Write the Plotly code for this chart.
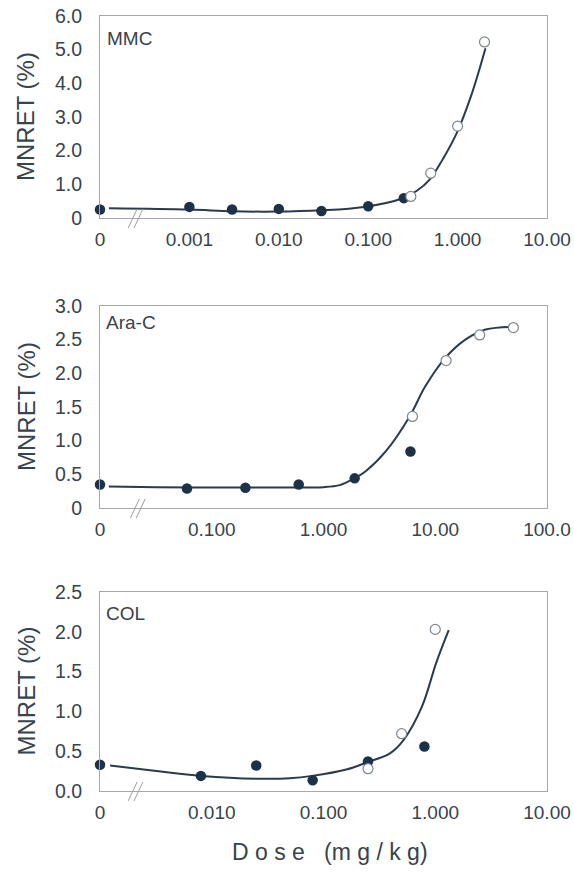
import plotly.graph_objects as go
from plotly.subplots import make_subplots

# ---------------- data ----------------
# MMC
mmc_filled_dose = [0, 0.001, 0.003, 0.01, 0.03, 0.1, 0.25]
mmc_filled_val = [0.25, 0.33, 0.25, 0.27, 0.21, 0.35, 0.59]
mmc_open_dose = [0.3, 0.5, 1.0, 2.0]
mmc_open_val = [0.64, 1.33, 2.73, 5.23]
mmc_curve_dose = [0.000126, 0.001, 0.003, 0.0093, 0.03, 0.09, 0.24, 0.35, 0.49, 0.68, 0.98, 1.45, 2.05]
mmc_curve_val = [0.29, 0.25, 0.20, 0.19, 0.23, 0.33, 0.58, 0.81, 1.15, 1.74, 2.53, 3.71, 5.04]

# Ara-C
arac_filled_dose = [0, 0.06, 0.2, 0.6, 1.9, 6.0]
arac_filled_val = [0.35, 0.29, 0.30, 0.35, 0.44, 0.84]
arac_open_dose = [6.25, 12.5, 25, 50]
arac_open_val = [1.36, 2.19, 2.57, 2.68]
arac_curve_dose = [0.012, 0.032, 0.1, 0.32, 1.0, 1.4, 1.8, 2.4, 3.6, 5.9, 8.1, 12.3, 18.6, 28.2, 50]
arac_curve_val = [0.32, 0.31, 0.305, 0.305, 0.31, 0.34, 0.42, 0.55, 0.84, 1.36, 1.80, 2.23, 2.50, 2.65, 2.69]

# COL
col_filled_dose = [0, 0.008, 0.025, 0.08, 0.25, 0.8]
col_filled_val = [0.33, 0.19, 0.32, 0.135, 0.37, 0.56]
col_open_dose = [0.25, 0.5, 1.0]
col_open_val = [0.28, 0.72, 2.03]
col_curve_dose = [0.00123, 0.0032, 0.0081, 0.025, 0.05, 0.079, 0.16, 0.245, 0.39, 0.52, 0.76, 1.02, 1.32]
col_curve_val = [0.32, 0.25, 0.19, 0.155, 0.16, 0.19, 0.27, 0.36, 0.47, 0.64, 1.06, 1.61, 2.02]

panel_names = ["MMC", "Ara-C", "COL"]

mmc_xtick_vals = [1e-4, 1e-3, 1e-2, 1e-1, 1, 10]
mmc_xtick_text = ["0", "0.001", "0.010", "0.100", "1.000", "10.00"]
arac_xtick_vals = [1e-2, 1e-1, 1, 10, 100]
arac_xtick_text = ["0", "0.100", "1.000", "10.00", "100.0"]
col_xtick_vals = [1e-3, 1e-2, 1e-1, 1, 10]
col_xtick_text = ["0", "0.010", "0.100", "1.000", "10.00"]

mmc_ytick_vals = [0, 1, 2, 3, 4, 5, 6]
mmc_ytick_text = ["0", "1.0", "2.0", "3.0", "4.0", "5.0", "6.0"]
arac_ytick_vals = [0, 0.5, 1.0, 1.5, 2.0, 2.5, 3.0]
arac_ytick_text = ["0", "0.5", "1.0", "1.5", "2.0", "2.5", "3.0"]
col_ytick_vals = [0, 0.5, 1.0, 1.5, 2.0, 2.5]
col_ytick_text = ["0.0", "0.5", "1.0", "1.5", "2.0", "2.5"]

# ---------------- figure ----------------
W, H = 574, 872
FONT = "Liberation Sans, Arial, sans-serif"
TXT = "#37434d"
LINE_C = "#2c3b49"
DOT_C = "#1d3246"
OPEN_C = "#7d8790"
FRAME_C = "#a8a8a8"

panels = [
    dict(fd=mmc_filled_dose, fv=mmc_filled_val, od=mmc_open_dose, ov=mmc_open_val,
         cd=mmc_curve_dose, cv=mmc_curve_val, xr=[-4, 1], yr=[0, 6],
         xtv=mmc_xtick_vals, xtt=mmc_xtick_text, ytv=mmc_ytick_vals, ytt=mmc_ytick_text,
         top=16, bot=218, brk=0.075, lab_y=0.89, lab_x=0.012),
    dict(fd=arac_filled_dose, fv=arac_filled_val, od=arac_open_dose, ov=arac_open_val,
         cd=arac_curve_dose, cv=arac_curve_val, xr=[-2, 2], yr=[0, 3],
         xtv=arac_xtick_vals, xtt=arac_xtick_text, ytv=arac_ytick_vals, ytt=arac_ytick_text,
         top=306, bot=508, brk=0.08, lab_y=0.92, lab_x=0.008),
    dict(fd=col_filled_dose, fv=col_filled_val, od=col_open_dose, ov=col_open_val,
         cd=col_curve_dose, cv=col_curve_val, xr=[-3, 1], yr=[0, 2.5],
         xtv=col_xtick_vals, xtt=col_xtick_text, ytv=col_ytick_vals, ytt=col_ytick_text,
         top=592, bot=791, brk=0.075, lab_y=0.89, lab_x=0.008),
]

fig = make_subplots(rows=3, cols=1)

X0, X1 = 100, 547
for i, p in enumerate(panels):
    r = i + 1
    zero_at = 10 ** p["xr"][0]
    fd = [d if d > 0 else zero_at for d in p["fd"]]
    fig.add_trace(go.Scatter(x=p["cd"], y=p["cv"], mode="lines", line_shape="spline",
                             line=dict(color=LINE_C, width=2), showlegend=False,
                             hoverinfo="skip"), row=r, col=1)
    fig.add_trace(go.Scatter(x=fd, y=p["fv"], mode="markers", cliponaxis=False,
                             marker=dict(size=10.5, color=DOT_C, line=dict(width=0)),
                             showlegend=False), row=r, col=1)
    fig.add_trace(go.Scatter(x=p["od"], y=p["ov"], mode="markers", cliponaxis=False,
                             marker=dict(size=10, color="white", line=dict(width=1.2, color=OPEN_C)),
                             showlegend=False), row=r, col=1)

    xa = "xaxis" if r == 1 else f"xaxis{r}"
    ya = "yaxis" if r == 1 else f"yaxis{r}"
    fig.layout[xa].update(type="log", range=p["xr"], domain=[X0 / W, X1 / W],
                          tickmode="array", tickvals=p["xtv"], ticktext=p["xtt"],
                          showgrid=False, zeroline=False, showline=True, mirror=True,
                          linecolor=FRAME_C, linewidth=1, ticks="", ticklen=0,
                          automargin=False,
                          tickfont=dict(family=FONT, size=19, color=TXT),
                          ticklabelstandoff=4)
    fig.layout[ya].update(range=p["yr"], domain=[1 - p["bot"] / H, 1 - p["top"] / H],
                          tickmode="array", tickvals=p["ytv"], ticktext=p["ytt"],
                          showgrid=False, zeroline=False, showline=True, mirror=True,
                          linecolor=FRAME_C, linewidth=1, ticks="", ticklen=0,
                          automargin=False,
                          tickfont=dict(family=FONT, size=19.5, color=TXT),
                          ticklabelstandoff=13)

    xd = "x domain" if r == 1 else f"x{r} domain"
    yd = "y domain" if r == 1 else f"y{r} domain"
    # axis break marks
    for dx in (0.0, 0.013):
        fig.add_shape(type="line", xref=xd, yref=yd,
                      x0=p["brk"] - 0.012 + dx, y0=-0.05,
                      x1=p["brk"] + 0.008 + dx, y1=0.045,
                      line=dict(color="#9aa0a6", width=1))
    # panel label
    fig.add_annotation(xref=xd, yref=yd, x=p["lab_x"], y=p["lab_y"], xanchor="left",
                       yanchor="middle", text=panel_names[i], showarrow=False,
                       font=dict(family=FONT, size=19, color=TXT))
    # y-axis title
    fig.add_annotation(xref="paper", yref="paper", x=26 / W,
                       y=1 - (p["top"] + p["bot"]) / 2 / H, text="MNRET (%)",
                       textangle=-90, showarrow=False, xanchor="center", yanchor="middle",
                       font=dict(family=FONT, size=24, color=TXT))

fig.add_annotation(xref="paper", yref="paper", x=330 / W, y=1 - 852 / H,
                   text="D o s e&nbsp;&nbsp; (m g / k g)", showarrow=False,
                   xanchor="center", yanchor="middle",
                   font=dict(family=FONT, size=23, color=TXT))

fig.update_layout(width=W, height=H,
                  margin=dict(l=0, r=0, t=0, b=0, pad=0, autoexpand=False),
                  plot_bgcolor="white", paper_bgcolor="white", showlegend=False)

fig.write_html("out.html", config={"displayModeBar": False},
               post_script="document.body.style.margin='0';document.body.style.overflow='hidden';")
